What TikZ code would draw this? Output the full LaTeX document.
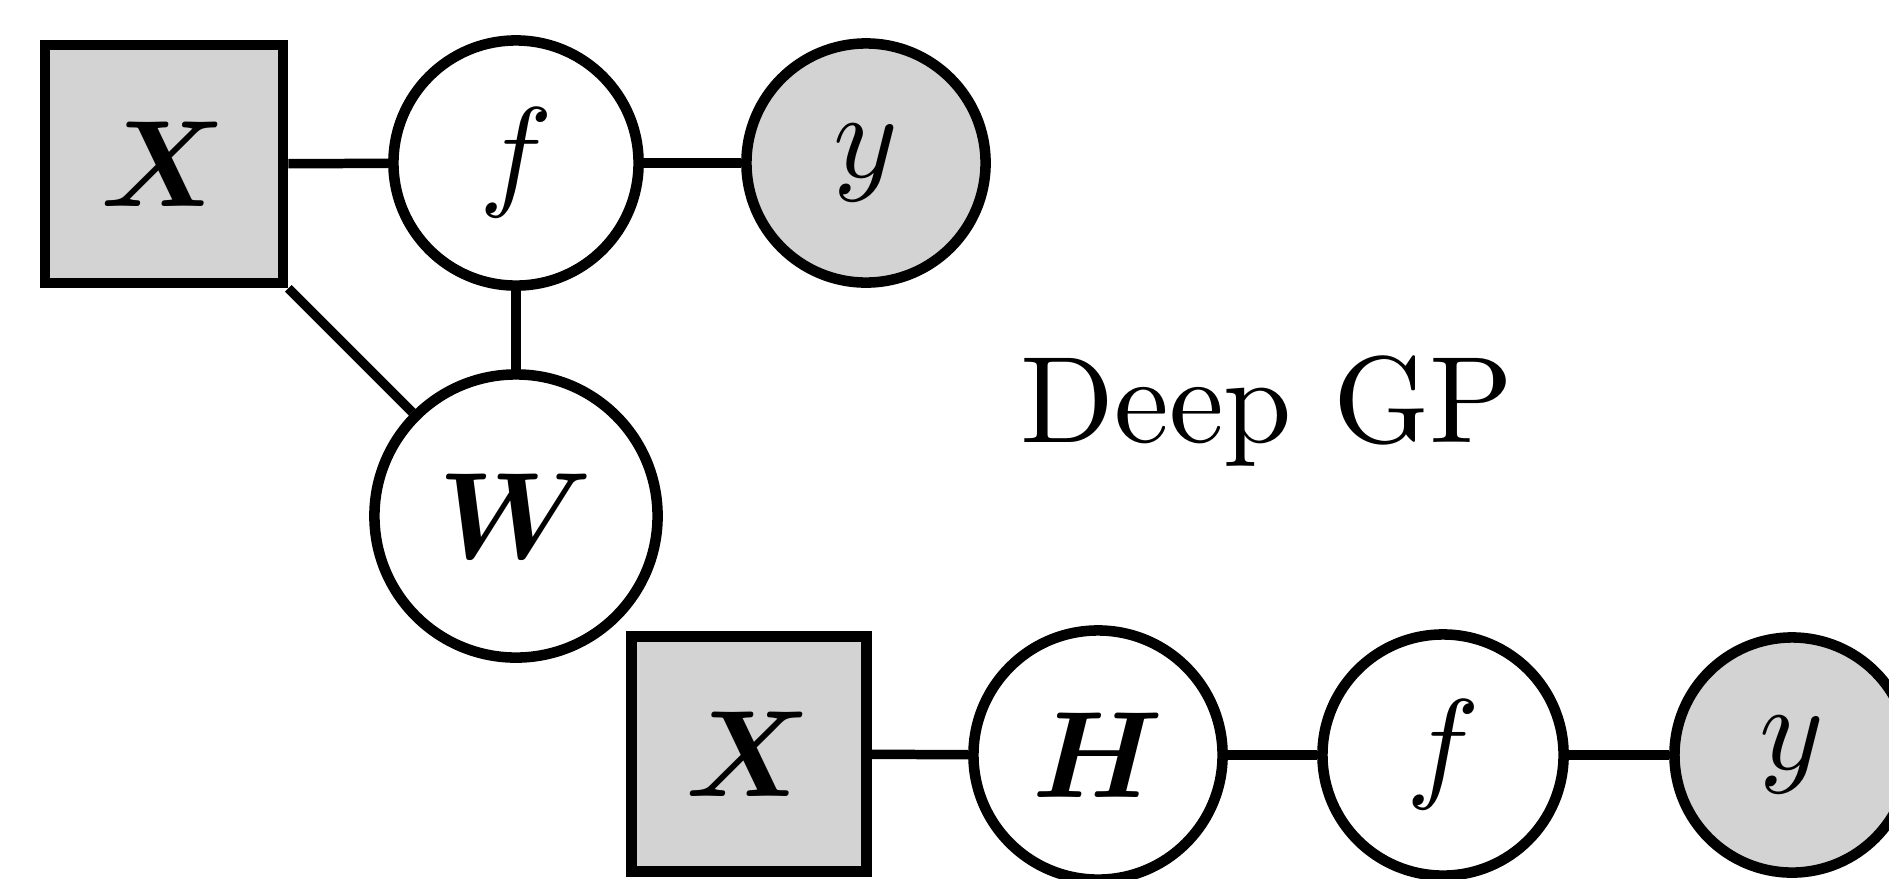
\RequirePackage{fix-cm}
\documentclass[tikz,border=0pt]{standalone}
\usepackage{amsmath,bm}
\definecolor{obsgray}{RGB}{211,211,211}
\newcommand{\biglabel}[1]{\scalebox{3.5}{#1}}
\tikzset{
  base/.style={draw=black, line width=3.0pt, inner sep=0pt},
  obsbox/.style={base, rectangle, fill=obsgray},
  latent/.style={base, circle, fill=white},
  observed/.style={base, circle, fill=obsgray},
  link/.style={line width=2.7pt}
}
\begin{document}
\begin{tikzpicture}[x=0.01cm, y=-0.01cm]
  \useasboundingbox (0,0) rectangle (1889,878);

  % shallow model
  \node[obsbox, minimum size=2.38cm] (X1) at (164,164) {\biglabel{$\bm{X}$}};
  \node[latent, minimum size=2.45cm] (f1) at (516,163) {\biglabel{$f$}};
  \node[observed, minimum size=2.39cm] (y1) at (866,163) {\biglabel{$y$}};
  \node[latent, minimum size=2.83cm] (W) at (516,516) {\biglabel{$\bm{W}$}};
  \draw[link] (X1) -- (f1);
  \draw[link] (f1) -- (y1);
  \draw[link] (f1) -- (W);
  \draw[link] (X1.south east) -- (W);

  \node[anchor=base, inner sep=0pt] (title) at (1267,442) {\biglabel{Deep GP}};

  % deep model
  \node[obsbox, minimum size=2.35cm] (X2) at (749,754) {\biglabel{$\bm{X}$}};
  \node[latent, minimum size=2.49cm] (H) at (1098,755) {\biglabel{$\bm{H}$}};
  \node[latent, minimum size=2.41cm] (f2) at (1443,755) {\biglabel{$f$}};
  \node[observed, minimum size=2.35cm] (y2) at (1792,755) {\biglabel{$y$}};
  \draw[link] (X2) -- (H);
  \draw[link] (H) -- (f2);
  \draw[link] (f2) -- (y2);
\end{tikzpicture}
\end{document}
